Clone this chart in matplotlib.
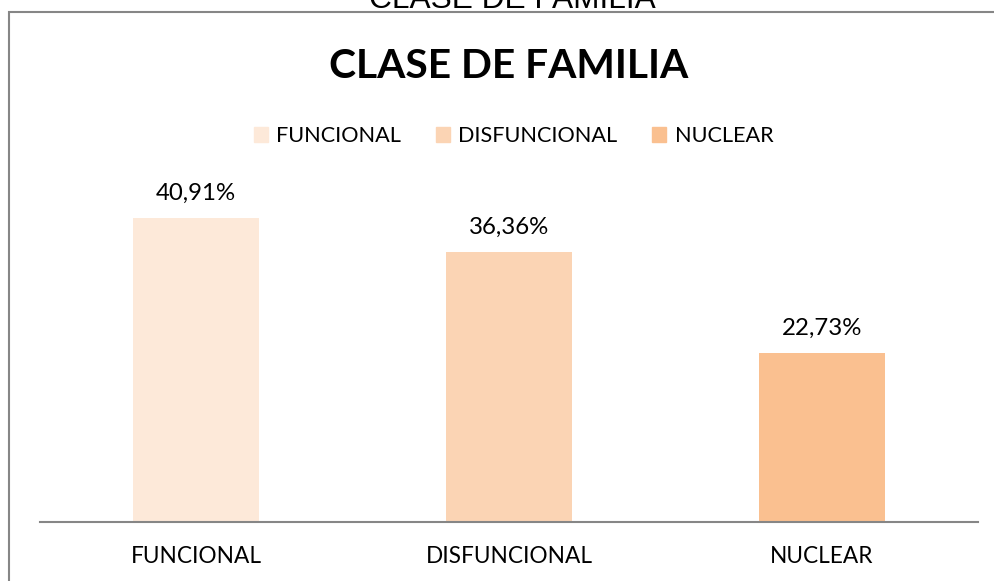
import matplotlib
matplotlib.use("Agg")
import matplotlib.pyplot as plt
from matplotlib.patches import Rectangle

categories = ["FUNCIONAL", "DISFUNCIONAL", "NUCLEAR"]
values = [40.91, 36.36, 22.73]
labels = ["40,91%", "36,36%", "22,73%"]
colors = ["#FDE9D9", "#FBD4B4", "#FAC090"]

W, H = 995, 581
fig = plt.figure(figsize=(W / 100, H / 100), dpi=100)
fig.patch.set_facecolor("white")

# outer frame (partially off-canvas)
fig.patches.append(Rectangle((8.5 / W, -0.1), 1.2, (H - 12.5) / H + 0.1,
                             transform=fig.transFigure, fill=False,
                             edgecolor="#868686", linewidth=1.5))

FONT = "Lato"

# outer title, cut off at top
fig.text(512.5 / W, 1 - 8.5 / H, "CLASE DE FAMILIA", ha="center", va="baseline",
         fontsize=22.8, family="Liberation Sans", color="black")

# inner title
fig.text(509 / W, 1 - 77.7 / H, "CLASE DE FAMILIA", ha="center", va="baseline",
         fontsize=29.3, fontweight="bold", family=FONT, color="black")

left, right = 39.5, 978.5
base = 521.5
ppu = 7.41
ymax = 50
ax = fig.add_axes([left / W, (H - base) / H, (right - left) / W, ppu * ymax / H])
ax.set_xlim(-0.5, 2.5)
ax.set_ylim(0, ymax)

x = range(len(categories))
bars = ax.bar(x, values, width=0.4, color=colors, label=categories)

for xi, v, lab in zip(x, values, labels):
    ax.annotate(lab, (xi, v), xytext=(0, 13.3), textcoords="offset points",
                ha="center", va="baseline", fontsize=17.3, family=FONT, color="black")

for s in ["top", "right", "left"]:
    ax.spines[s].set_visible(False)
ax.spines["bottom"].set_color("#868686")
ax.spines["bottom"].set_linewidth(1.5)
ax.set_yticks([])
ax.set_xticks(list(x))
ax.set_xticklabels(categories, fontsize=16.3, family=FONT)
ax.tick_params(axis="x", length=0, pad=17.5)
ax.set_facecolor("none")

handles = [Rectangle((0, 0), 1, 1, color=c) for c in colors]
fig.legend(handles, categories, loc="center", bbox_to_anchor=(513.5 / W, 1 - 136 / H),
           ncol=3, frameon=False, prop={"family": FONT, "size": 15.6},
           handlelength=0.64, handleheight=0.64, handletextpad=0.4, columnspacing=1.6)

fig.savefig("out.png", dpi=100)
